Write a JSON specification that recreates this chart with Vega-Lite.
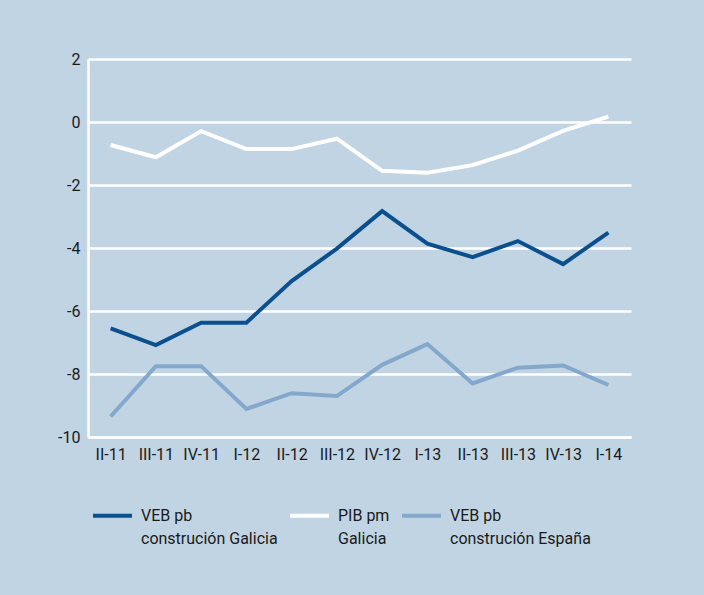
{
  "$schema": "https://vega.github.io/schema/vega-lite/v6.json",
  "autosize": "none",
  "width": 543,
  "height": 378,
  "padding": {"left": 88, "top": 59, "right": 73, "bottom": 158},
  "background": "#c1d4e3",
  "config": {
    "view": {"stroke": null},
    "font": "Roboto, sans-serif",
    "style": {"guide-label": {"lineHeight": 23}},
    "axis": {
      "labelFont": "Roboto, sans-serif",
      "labelFontSize": 16,
      "labelColor": "#1a1a1a",
      "domainColor": "#ffffff",
      "domainWidth": 2.5,
      "ticks": false,
      "title": null
    },
    "legend": {
      "labelFont": "Roboto, sans-serif",
      "labelFontSize": 16,
      "labelColor": "#1a1a1a"
    }
  },
  "data": {
    "values": [
      {"trimestre": "II-11", "serie": "VEB pb|construción Galicia", "valor": -6.55},
      {"trimestre": "III-11", "serie": "VEB pb|construción Galicia", "valor": -7.08},
      {"trimestre": "IV-11", "serie": "VEB pb|construción Galicia", "valor": -6.37},
      {"trimestre": "I-12", "serie": "VEB pb|construción Galicia", "valor": -6.37},
      {"trimestre": "II-12", "serie": "VEB pb|construción Galicia", "valor": -5.05},
      {"trimestre": "III-12", "serie": "VEB pb|construción Galicia", "valor": -4.02},
      {"trimestre": "IV-12", "serie": "VEB pb|construción Galicia", "valor": -2.83},
      {"trimestre": "I-13", "serie": "VEB pb|construción Galicia", "valor": -3.86},
      {"trimestre": "II-13", "serie": "VEB pb|construción Galicia", "valor": -4.29},
      {"trimestre": "III-13", "serie": "VEB pb|construción Galicia", "valor": -3.78},
      {"trimestre": "IV-13", "serie": "VEB pb|construción Galicia", "valor": -4.51},
      {"trimestre": "I-14", "serie": "VEB pb|construción Galicia", "valor": -3.51},
      {"trimestre": "II-11", "serie": "PIB pm|Galicia", "valor": -0.73},
      {"trimestre": "III-11", "serie": "PIB pm|Galicia", "valor": -1.12},
      {"trimestre": "IV-11", "serie": "PIB pm|Galicia", "valor": -0.29},
      {"trimestre": "I-12", "serie": "PIB pm|Galicia", "valor": -0.86},
      {"trimestre": "II-12", "serie": "PIB pm|Galicia", "valor": -0.86},
      {"trimestre": "III-12", "serie": "PIB pm|Galicia", "valor": -0.53},
      {"trimestre": "IV-12", "serie": "PIB pm|Galicia", "valor": -1.55},
      {"trimestre": "I-13", "serie": "PIB pm|Galicia", "valor": -1.61},
      {"trimestre": "II-13", "serie": "PIB pm|Galicia", "valor": -1.37},
      {"trimestre": "III-13", "serie": "PIB pm|Galicia", "valor": -0.91},
      {"trimestre": "IV-13", "serie": "PIB pm|Galicia", "valor": -0.28},
      {"trimestre": "I-14", "serie": "PIB pm|Galicia", "valor": 0.17},
      {"trimestre": "II-11", "serie": "VEB pb|construción España", "valor": -9.35},
      {"trimestre": "III-11", "serie": "VEB pb|construción España", "valor": -7.75},
      {"trimestre": "IV-11", "serie": "VEB pb|construción España", "valor": -7.75},
      {"trimestre": "I-12", "serie": "VEB pb|construción España", "valor": -9.11},
      {"trimestre": "II-12", "serie": "VEB pb|construción España", "valor": -8.61},
      {"trimestre": "III-12", "serie": "VEB pb|construción España", "valor": -8.7},
      {"trimestre": "IV-12", "serie": "VEB pb|construción España", "valor": -7.71},
      {"trimestre": "I-13", "serie": "VEB pb|construción España", "valor": -7.05},
      {"trimestre": "II-13", "serie": "VEB pb|construción España", "valor": -8.3},
      {"trimestre": "III-13", "serie": "VEB pb|construción España", "valor": -7.8},
      {"trimestre": "IV-13", "serie": "VEB pb|construción España", "valor": -7.73},
      {"trimestre": "I-14", "serie": "VEB pb|construción España", "valor": -8.35}
    ]
  },
  "mark": {"type": "line", "strokeWidth": 4, "strokeJoin": "miter"},
  "encoding": {
    "x": {
      "field": "trimestre",
      "type": "ordinal",
      "sort": null,
      "scale": {"type": "point", "padding": 0.5},
      "axis": {"labelAngle": 0, "labelPadding": 9, "grid": false}
    },
    "y": {
      "field": "valor",
      "type": "quantitative",
      "scale": {"domain": [-10, 2], "nice": false, "zero": false},
      "axis": {
        "values": [-10, -8, -6, -4, -2, 0, 2],
        "labelExpr": "datum.value + ''",
        "grid": true,
        "gridColor": "#ffffff",
        "gridWidth": 2.5,
        "gridOpacity": 1,
        "labelPadding": 8
      }
    },
    "color": {
      "field": "serie",
      "type": "nominal",
      "scale": {
        "domain": ["VEB pb|construción Galicia", "PIB pm|Galicia", "VEB pb|construción España"],
        "range": ["#0b4f8f", "#ffffff", "#84a8cb"]
      },
      "legend": {
        "title": null,
        "orient": "none",
        "direction": "horizontal",
        "legendX": 3,
        "legendY": 435,
        "symbolType": "stroke",
        "symbolSize": 1521,
        "symbolStrokeWidth": 4,
        "labelExpr": "split(datum.label, '|')",
        "labelOffset": 7,
        "columnPadding": 4,
        "labelLimit": 300
      }
    }
  }
}
